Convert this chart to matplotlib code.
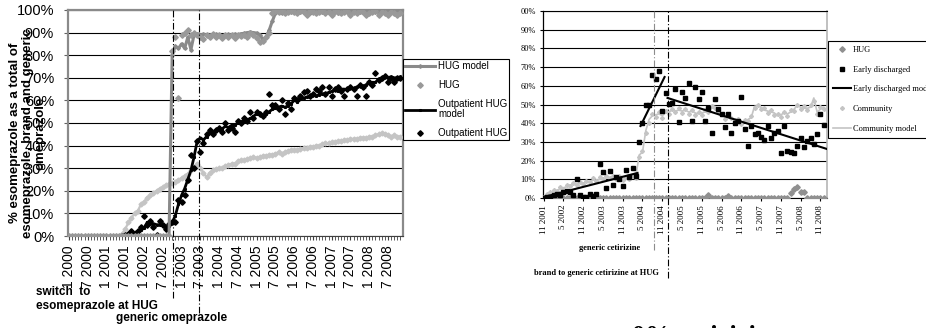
import numpy as np
import matplotlib
matplotlib.use("Agg")
import matplotlib.pyplot as plt

nan = np.nan

# ---------------- left panel: esomeprazole, monthly from 1/2000 ----------------
left_ticklabels = ['1 2000', '7 2000', '1 2001', '7 2001', '1 2002', '7 2002',
                   '1 2003', '7 2003', '1 2004', '7 2004', '1 2005', '7 2005',
                   '1 2006', '7 2006', '1 2007', '7 2007', '1 2008', '7 2008']

hug_model = [0] * 33 + [
    80, 84, 83, 85, 83, 88, 82.5, 89, 89.5, 89,
    89.3, 89, 88.8, 89, 89.2, 89, 88.7, 89, 89.2, 89,
    89.3, 89, 89.5, 89.7, 90, 90.2, 90, 89.8, 89, 87,
    88, 91, 95, 98.5, 99] + [
    98.8, 99, 99.2, 99, 98.9, 99.1, 99, 99.2, 99, 98.8,
    99, 99.1, 99, 99.2, 98.9, 99, 99.1, 99, 98.8, 99,
    99.2, 99, 99, 98.9, 99.1, 99, 99.2, 99, 98.8, 99,
    99.1, 99, 98.9, 99, 99.2, 99, 99, 98.9, 99]

hug_pts = [0] * 33 + [
    82, 88, 61, 89, 90, 91, 89, 90, 89, 88,
    87, 89, 88, 89.5, 88, 89, 87.5, 89, 88, 89,
    87.5, 89, 88.5, 89, 88, 90, 89, 87.5, 86, 86.5,
    88, 90, 98.5, 99.5, 99] + [
    99.5, 98.5, 99, 99.5, 99, 98.5, 99.5, 99, 98, 99.5,
    99, 98.5, 99, 99.5, 98.5, 99, 98, 99.5, 99, 98.5,
    99, 99.5, 98, 99, 98.5, 99.5, 99, 98, 98.5, 99,
    99.5, 98, 99, 98.5, 98, 99, 98.5, 98, 98.5]

community_left = [0] * 17 + [
    1, 3, 6, 8, 10, 11, 14, 15, 17, 18,
    19, 20, 21, 21.5, 22.5, 23, 23.5, 24, 25, 25.5,
    26.5, 27.5, 29, 30.5, 32, 30, 28, 26, 28, 29,
    29.5, 30, 30, 31, 31.5, 32, 32, 33, 33.5, 33.5,
    34, 34.5, 35, 34.5, 35, 35.5, 35.5, 36, 36, 36.5,
    37, 36.5, 37, 37.5, 38, 38, 38, 38.5, 39, 39,
    39.5, 39.5, 40, 40, 40.5, 41, 41, 41.5, 41.5, 42,
    42, 42.5, 42.5, 43, 43, 43, 43.5, 43.5, 43.5, 44,
    44, 44.5, 45, 45.5, 45, 44.5, 44, 44.5, 44, 44]

outpatient_model = [nan] * 17 + [
    0, 0.5, 1, 1.5, 1.5, 2, 2.5, 3.5, 6, 5.5,
    5.5, 5, 5, 4.5, 4, 4.5, 6, 9, 14, 18,
    21, 25, 29, 35, 42, 43.5, 42.5, 44, 45.5, 46,
    46.5, 47, 47.5, 48.5, 48, 49, 49, 50, 50.5, 51,
    51.5, 52, 53, 54, 54, 53.5, 54, 55, 56, 56.5,
    57, 57.5, 57, 57.5, 58.5, 60, 59.5, 60.5, 61, 61.5,
    62, 62.5, 62, 62.5, 63, 63, 63.5, 64, 64.5, 64,
    65, 65, 64.5, 65.5, 65, 66, 66.5, 66, 67, 67.5,
    68, 68, 69.5, 70, 70.5, 70, 70.5, 70, 70, 70.5]

outpatient_pts = [nan] * 17 + [
    0, 0.5, 1, 2, 0.5, 2, 4, 9, 5, 6.5,
    4, 0.4, 6.5, 5, 3, 5.5, 6, 6, 16, 15,
    18, 25, 36, 30, 42, 37, 41, 45, 47, 45,
    47, 48, 46, 50, 47, 48, 46, 51, 50, 52,
    51, 55, 52, 55, 54, 53, 55, 63, 58, 58,
    56, 60, 54, 59, 56, 61, 60, 62, 63.5, 64,
    62, 63, 65, 64, 66, 63, 66, 62, 65, 66,
    64, 62, 65, 66, 65, 62, 67, 66, 62, 68,
    67, 72, 69, 70, 71, 68, 70, 68, 70, 70]

switch_month = 33.2     # switch to esomeprazole at HUG
generic_omep_month = 41.5

# ---------------- right panel: cetirizine, monthly from 11/2001 ----------------
right_ticklabels = ['11 2001', '5 2002', '11 2002', '5 2003', '11 2003', '5 2004',
                    '11 2004', '5 2005', '11 2005', '5 2006', '11 2006', '5 2007',
                    '11 2007', '5 2008', '11 2008']
right_yticklabels = ['0%', '10%', '20%', '30%', '40%', '50%', '60%', '70%',
                     '80%', '90%', '00%']

hug_right = [0] * 50 + [1.5] + [0] * 5 + [1] + [0] * 18 + [2.5, 5, 6, 3, 3.4] + [0] * 6

early_pts = [
    0, 0.5, 0.4, 1.5, 2, 1.6, 3, 4, 3, 1.6,
    10, 1.6, 0.4, 0.4, 2, 1, 2, 18, 14, 5.5,
    14.6, 7, 11, 10, 6.6, 15, 11, 15.8, 12, 30,
    40, 49.6, 50, 65.8, 63.5, 67.8, 46.4, 56, 50.5, 51,
    58.4, 40.4, 56.8, 53.7, 61.7, 41, 59.6, 53, 56.8, 41,
    48, 35, 53, 47.7, 45, 38, 45, 35, 40, 41,
    54, 37, 28, 38.4, 34, 35, 32.7, 31, 38.4, 32,
    35, 35.8, 24.2, 38.4, 25.3, 24.7, 23.8, 28, 32, 27.4,
    30.4, 32, 29, 34, 45, 39.3]

# segmented model: three straight pieces (month, %)
early_model_month = [0, 28.5, nan, 29.4, 36.7, nan, 37.6, 86]
early_model_value = [0.5, 13.4, nan, 38.5, 64.7, nan, 53.5, 26.2]

community_model = [
    0, 1.5, 2.5, 3.5, 4, 5, 5.5, 6, 7, 7,
    7.5, 8, 8, 8.5, 9, 9.5, 9.5, 10, 10.5, 10.5,
    11, 11, 10.5, 10.5, 10.5, 10, 11, 11, 12, 23,
    24.5, 36, 42, 44, 44.5, 45, 44, 45.5, 46, 47,
    46.5, 47, 46.5, 47, 46, 46.5, 45.5, 45, 45.5, 46,
    47, 48, 49, 47, 44, 43.5, 44, 42.5, 42, 41,
    40, 40.5, 42, 43, 49, 49.5, 48.5, 47, 46.5, 46,
    45.5, 44, 44.5, 45.5, 45, 46, 47.5, 49.5, 48.5, 48,
    48, 48.5, 53.5, 46, 47.5, 48.5]

community_pts = [
    0.5, 2, 3, 4.5, 3.5, 6, 5, 7, 6.5, 8,
    7, 8.5, 7.5, 9, 8.5, 10.5, 9, 11, 10, 12,
    10.5, 12, 10, 11.5, 9.5, 11, 10, 12, 10.5, 22,
    25, 35, 40, 45, 43.5, 46, 43, 46.5, 45, 47.5,
    46, 48, 45.5, 47.5, 45, 47, 44.5, 46, 44.5, 47,
    46, 49, 48, 46, 45, 42.5, 45, 43, 41.5, 42,
    39.5, 41.5, 41, 44, 48, 50, 47.5, 48, 45.5, 47,
    44.5, 45, 43.5, 46, 44, 47, 46.5, 50, 47.5, 49,
    47, 49.5, 52, 45, 48.5, 47.5]

generic_cet_month = 33.6
brand_to_generic_month = 37.6

# ---------------- figure ----------------
W, H = 926, 328
fig = plt.figure(figsize=(W / 100, H / 100), dpi=100)
SANS = 'Liberation Sans'
SERIF = 'Liberation Serif'
plt.rcParams['font.family'] = SANS

def fx(px):
    return px / W

def fy(py):
    return 1 - py / H

dashdot = (0, (6, 2, 1, 2))
dark_gray = '#8a8a8a'
light_gray = '#c4c4c4'

# ---- left axes
axL = fig.add_axes([fx(68), fy(236), (403 - 68) / W, (236 - 10) / H])
mL = np.arange(len(hug_model))

axL.plot(mL, community_left, color=light_gray, lw=1.6, marker='D', ms=2.5,
         mec=light_gray, zorder=3)
axL.plot(mL, outpatient_model, color='black', lw=2, marker='s', ms=1.2,
         label='Outpatient HUG\nmodel', zorder=4)
axL.plot(mL, outpatient_pts, ls='none', marker='D', ms=2.8, color='black',
         label='Outpatient HUG', zorder=5)
axL.plot(mL, hug_model, color=dark_gray, lw=2.2, marker='D', ms=1.8,
         label='HUG model', zorder=6)
axL.plot(mL, hug_pts, ls='none', marker='D', ms=2.8, color='#999999',
         label='HUG', zorder=6)

axL.set_xlim(-0.3, 106.8)
axL.set_ylim(0, 100)
axL.set_yticks(np.arange(0, 101, 10))
axL.set_yticklabels([f'{v}%' for v in range(0, 101, 10)], fontsize=10.5)
axL.set_xticks(np.arange(0, 6 * len(left_ticklabels), 6))
axL.set_xticklabels(left_ticklabels, rotation=90, fontsize=10, va='top')
axL.set_xticks(np.arange(0, 107), minor=True)
axL.tick_params(axis='x', which='both', length=3, direction='out',
                color='#404040', pad=4)
axL.tick_params(axis='y', length=3, direction='out', color='#606060', pad=7)
axL.grid(axis='y', color='black', lw=0.8)
axL.set_axisbelow(True)
for side in ('left', 'top', 'right'):
    axL.spines[side].set_color(dark_gray)
    axL.spines[side].set_linewidth(1.6)
axL.spines['bottom'].set_color('#404040')

for m, low in ((switch_month, -27.5), (generic_omep_month, -34)):
    axL.plot([m, m], [low, 100], color='black', lw=0.8, ls=dashdot,
             clip_on=False, zorder=7)

handles, labels = axL.get_legend_handles_labels()
order = [labels.index(n) for n in ('HUG model', 'HUG', 'Outpatient HUG\nmodel',
                                   'Outpatient HUG')]
legL = axL.legend([handles[i] for i in order], [labels[i] for i in order],
                  loc='upper left', bbox_to_anchor=(fx(403), fy(59)),
                  bbox_transform=fig.transFigure, borderaxespad=0,
                  borderpad=0.2, handlelength=3.1, handletextpad=0.3,
                  labelspacing=0.95, numpoints=1, fontsize=7,
                  fancybox=False, framealpha=1, edgecolor='black')
legL.get_frame().set_linewidth(0.8)
for t in legL.get_texts():
    t.set_linespacing(0.95)

fig.text(fx(28), fy(133),
         '% esomeprazole as a total of\nesomeprazole, brand and generic\nomeprazole',
         rotation=90, ha='center', va='center', fontsize=9.5, fontweight='bold',
         linespacing=1.1, multialignment='center')
fig.text(fx(36), fy(292), 'switch  to', fontsize=8.5, fontweight='bold', va='center')
fig.text(fx(36), fy(306), 'esomeprazole at HUG', fontsize=8.5, fontweight='bold',
         va='center')
fig.text(fx(116), fy(318), 'generic omeprazole', fontsize=8.5, fontweight='bold',
         va='center')

# ---- right axes
axR = fig.add_axes([fx(543), fy(198), (827 - 543) / W, (198 - 11) / H])
mR = np.arange(len(early_pts))

axR.plot(mR, community_model, color=light_gray, lw=1.2, label='Community model',
         zorder=3)
axR.plot(mR, community_pts, ls='none', marker='D', ms=2, color=light_gray,
         label='Community', zorder=3)
axR.plot(mR, hug_right, ls='none', marker='D', ms=2.8, color='#909090',
         label='HUG', zorder=4)
axR.plot(early_model_month, early_model_value, color='black', lw=1.5,
         label='Early discharged model', zorder=5)
axR.plot(mR, early_pts, ls='none', marker='s', ms=2.6, color='black',
         label='Early discharged', zorder=5)

axR.set_xlim(-0.2, 86)
axR.set_ylim(0, 100)
axR.set_yticks(np.arange(0, 101, 10))
axR.set_yticklabels(right_yticklabels, fontsize=6, family=SERIF)
axR.set_xticks(np.arange(0, 6 * len(right_ticklabels), 6))
axR.set_xticklabels(right_ticklabels, rotation=90, fontsize=6.5, family=SERIF,
                    va='top')
axR.tick_params(length=2, direction='out', pad=3)
axR.grid(axis='y', color='black', lw=0.8)
axR.set_axisbelow(True)
axR.spines['right'].set_color('#b5b5b5')
axR.spines['right'].set_linewidth(1.2)
axR.spines['left'].set_linewidth(0.9)

axR.plot([generic_cet_month] * 2, [-28, 100], color='#8c8c8c', lw=0.8,
         ls=dashdot, clip_on=False, zorder=7)
axR.plot([brand_to_generic_month] * 2, [-43, 100], color='black', lw=0.8,
         ls=dashdot, clip_on=False, zorder=7)

handles, labels = axR.get_legend_handles_labels()
order = [labels.index(n) for n in ('HUG', 'Early discharged', 'Early discharged model',
                                   'Community', 'Community model')]
legR = axR.legend([handles[i] for i in order], [labels[i] for i in order],
                  loc='upper left', bbox_to_anchor=(fx(828), fy(41)),
                  bbox_transform=fig.transFigure, borderaxespad=0,
                  borderpad=0.6, handlelength=2.2, handletextpad=0.2,
                  labelspacing=1.4, numpoints=1, fancybox=False, framealpha=1,
                  edgecolor='black', prop={'family': SERIF, 'size': 6})
legR.get_frame().set_linewidth(0.8)

fig.text(fx(579), fy(248), 'generic cetirizine', fontsize=6, fontweight='bold',
         family=SERIF, va='center')
fig.text(fx(534), fy(273), 'brand to generic cetirizine at HUG', fontsize=6,
         fontweight='bold', family=SERIF, va='center')

# large heading of the next panel, cut by the bottom edge
fig.text(fx(632), fy(325), '0% cetirizine', fontsize=19, fontweight='bold',
         family=SERIF, va='top')

fig.savefig('out.png', dpi=100)
